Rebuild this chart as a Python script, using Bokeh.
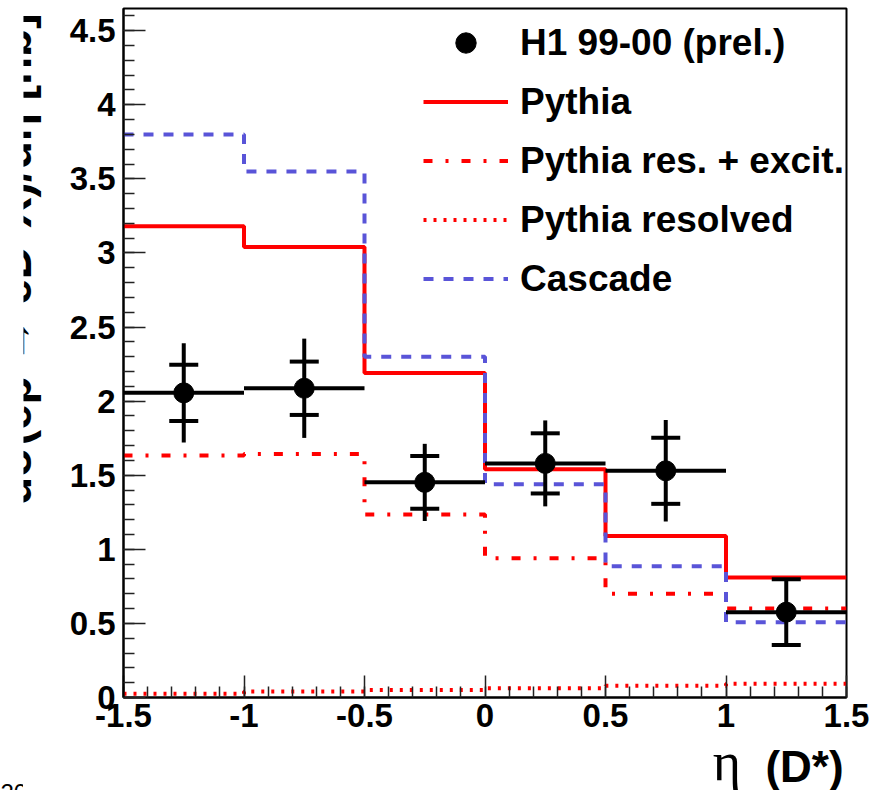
import math
from bokeh.plotting import figure
from bokeh.models import (Range1d, SingleIntervalTicker, Legend, LegendItem,
                          Label)
from bokeh.layouts import row, column
from bokeh.embed import file_html
from bokeh.resources import INLINE

# ---------------- data ----------------
bin_edges = [-1.5, -1.0, -0.5, 0.0, 0.5, 1.0, 1.5]
eta_centers = [-1.25, -0.75, -0.25, 0.25, 0.75, 1.25]
bin_lo = [-1.5, -1.0, -0.5, 0.0, 0.5, 1.0]
bin_hi = [-1.0, -0.5, 0.0, 0.5, 1.0, 1.5]

h1_xsec = [2.056, 2.087, 1.452, 1.58, 1.53, 0.576]
h1_stat = [0.19, 0.18, 0.178, 0.203, 0.223, 0.222]
h1_tot = [0.335, 0.335, 0.26, 0.29, 0.343, 0.222]

pythia = [3.18, 3.04, 2.19, 1.54, 1.09, 0.81]
pythia_res_exc = [1.633, 1.644, 1.235, 0.94, 0.70, 0.60]
pythia_resolved = [0.025, 0.04, 0.05, 0.063, 0.08, 0.092]
cascade = [3.80, 3.55, 2.30, 1.44, 0.886, 0.508]

x_tick_values = [-1.5, -1.0, -0.5, 0.0, 0.5, 1.0, 1.5]
x_tick_labels = ["-1.5", "-1", "-0.5", "0", "0.5", "1", "1.5"]
y_tick_values = [0.0, 0.5, 1.0, 1.5, 2.0, 2.5, 3.0, 3.5, 4.0, 4.5]
y_tick_labels = ["0", "0.5", "1", "1.5", "2", "2.5", "3", "3.5", "4", "4.5"]

legend_labels = ["H1 99-00 (prel.)", "Pythia", "Pythia res. + excit.",
                 "Pythia resolved", "Cascade"]
x_title_symbol = "\u03b7"
x_title_text = "(D*)"
y_title_text = "d\u03c3(ep \u2192 eD*X)/d\u03b7 [nb]"
corner_text = "20"

RED = "#ff0000"
BLUE = "#5954d8"
SANS = "Liberation Sans"

TOTAL_H = 790


def bare(fig):
    fig.outline_line_color = None
    fig.xgrid.visible = False
    fig.ygrid.visible = False
    fig.background_fill_color = "white"
    fig.border_fill_color = "white"
    return fig


# ---------------- main figure ----------------
p = figure(width=809, height=745,
           x_range=Range1d(-1.5, 1.5), y_range=Range1d(0, 4.65),
           output_backend="svg", toolbar_location=None,
           min_border_left=60, min_border_right=26,
           min_border_top=8, min_border_bottom=48)
p.background_fill_color = "white"
p.border_fill_color = "white"
p.outline_line_color = "black"
p.outline_line_width = 2
p.xgrid.visible = False
p.ygrid.visible = False

for ax in (p.xaxis, p.yaxis):
    ax.major_tick_in = 22
    ax.major_tick_out = 0
    ax.minor_tick_in = 11
    ax.minor_tick_out = 0
    ax.major_tick_line_width = 1.5
    ax.minor_tick_line_width = 1.5
    ax.major_tick_line_color = "#222222"
    ax.minor_tick_line_color = "#222222"
    ax.axis_line_width = 2
    ax.axis_line_color = "black"
    ax.major_label_text_font = SANS
    ax.major_label_text_font_style = "bold"
    ax.major_label_text_font_size = "33px"
    ax.major_label_text_color = "black"

p.xaxis.ticker = SingleIntervalTicker(interval=0.5, num_minor_ticks=5)
p.yaxis.ticker = SingleIntervalTicker(interval=0.5, num_minor_ticks=5)
p.xaxis.major_label_overrides = dict(zip(x_tick_values, x_tick_labels))
p.yaxis.major_label_overrides = dict(zip(y_tick_values, y_tick_labels))
p.xaxis.major_label_standoff = 6
p.yaxis.major_label_standoff = 8

# ---------------- histograms ----------------
def step_y(vals):
    return list(vals) + [vals[-1]]

r_res = p.step(x=bin_edges, y=step_y(pythia_resolved), mode="after",
               line_color=RED, line_width=4, line_dash="3 7")
r_resexc = p.step(x=bin_edges, y=step_y(pythia_res_exc), mode="after",
                  line_color=RED, line_width=4, line_dash="9 13 3 13")
r_py = p.step(x=bin_edges, y=step_y(pythia), mode="after",
              line_color=RED, line_width=4)
r_cas = p.step(x=bin_edges, y=step_y(cascade), mode="after",
               line_color=BLUE, line_width=4, line_dash="10 10")

# ---------------- data points ----------------
p.segment(x0=bin_lo, x1=bin_hi, y0=h1_xsec, y1=h1_xsec,
          line_color="black", line_width=4)
p.segment(x0=eta_centers, x1=eta_centers,
          y0=[y - e for y, e in zip(h1_xsec, h1_tot)],
          y1=[y + e for y, e in zip(h1_xsec, h1_tot)],
          line_color="black", line_width=4)
p.scatter(x=eta_centers + eta_centers,
          y=[y + e for y, e in zip(h1_xsec, h1_stat)] +
            [y - e for y, e in zip(h1_xsec, h1_stat)],
          marker="dash", size=29, line_color="black", line_width=4)
r_pts = p.scatter(x=eta_centers, y=h1_xsec, marker="circle", size=20,
                  fill_color="black", line_color="black")

# ---------------- legend ----------------
legend = Legend(items=[
    LegendItem(label=legend_labels[0], renderers=[r_pts]),
    LegendItem(label=legend_labels[1], renderers=[r_py]),
    LegendItem(label=legend_labels[2], renderers=[r_resexc]),
    LegendItem(label=legend_labels[3], renderers=[r_res]),
    LegendItem(label=legend_labels[4], renderers=[r_cas]),
], location=(300, 393))
legend.border_line_color = None
legend.background_fill_alpha = 0
legend.padding = 0
legend.margin = 0
legend.spacing = 8
legend.glyph_width = 85
legend.glyph_height = 51
legend.label_height = 51
legend.label_standoff = 12
legend.label_text_font = SANS
legend.label_text_font_style = "bold"
legend.label_text_font_size = "37px"
legend.label_text_color = "black"
legend.label_text_baseline = "middle"
p.add_layout(legend)

# ---------------- corner strip (text cut at the page bottom) ----------------
corner = bare(figure(width=23, height=TOTAL_H, x_range=Range1d(0, 23),
                     y_range=Range1d(0, TOTAL_H), output_backend="svg",
                     toolbar_location=None, x_axis_location=None,
                     y_axis_location=None, min_border=0))
corner.add_layout(Label(x=0, y=-2, text=corner_text, text_align="left",
                        text_baseline="middle", text_font=SANS,
                        text_font_size="24px", text_color="black"))

# ---------------- y title (left strip, clipped at its left edge) ----------------
left = bare(figure(width=40, height=TOTAL_H, x_range=Range1d(0, 40),
                   y_range=Range1d(0, TOTAL_H), output_backend="svg",
                   toolbar_location=None, x_axis_location=None,
                   y_axis_location=None, min_border=0))
left.add_layout(Label(x=-9, y=TOTAL_H - 13, angle=math.pi / 2,
                      text=y_title_text, text_align="right",
                      text_baseline="middle", text_font=SANS,
                      text_font_style="bold", text_font_size="46px",
                      text_color="black"))

# ---------------- x title (bottom strip) ----------------
bh = TOTAL_H - 745
bottom = bare(figure(width=809, height=bh, x_range=p.x_range,
                     y_range=Range1d(0, bh), output_backend="svg",
                     toolbar_location=None, x_axis_location=None,
                     y_axis_location=None, min_border_left=60,
                     min_border_right=26, min_border_top=0,
                     min_border_bottom=0))
bottom.add_layout(Label(x=0.945, y=TOTAL_H - 761, text=x_title_symbol,
                        text_align="left", text_baseline="middle",
                        text_font="Liberation Serif", text_font_size="54px",
                        text_color="black"))
bottom.add_layout(Label(x=1.488, y=TOTAL_H - 766, text=x_title_text,
                        text_align="right", text_baseline="middle",
                        text_font=SANS, text_font_style="bold",
                        text_font_size="44px", text_color="black"))

layout = row(corner, left, column(p, bottom))
open("out.html", "w").write(file_html(layout, INLINE))
